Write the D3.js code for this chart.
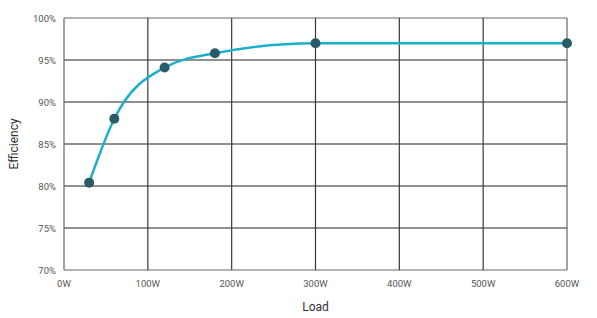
<!DOCTYPE html>
<html>
<head>
<meta charset="utf-8">
<script src="https://cdn.jsdelivr.net/npm/d3@7"></script>
<style>
  body { margin: 0; background: #fff; }
  text { font-family: Roboto, "Noto Sans", sans-serif; }
</style>
</head>
<body>
<div id="chart"></div>
<script>
const loads = [30, 60, 120, 180, 300, 600];
const efficiency = [80.4, 88.0, 94.1, 95.8, 97.0, 97.0];
const xTicks = [0, 100, 200, 300, 400, 500, 600];
const yTicks = [70, 75, 80, 85, 90, 95, 100];

const width = 597, height = 318;
const margin = { top: 18, right: 30, bottom: 48, left: 64 };

const svg = d3.select("#chart").append("svg")
  .attr("width", width)
  .attr("height", height);

const x = d3.scaleLinear().domain([0, 600]).range([margin.left, width - margin.right]);
const y = d3.scaleLinear().domain([70, 100]).range([height - margin.bottom, margin.top]);

// grid
const grid = svg.append("g");
grid.selectAll("line.h").data(yTicks).join("line")
  .attr("x1", x(0)).attr("x2", x(600))
  .attr("y1", d => y(d)).attr("y2", d => y(d))
  .attr("stroke", d => (d === 70 || d === 100) ? "#666" : "#222")
  .attr("stroke-width", 1.2);
grid.selectAll("line.v").data(xTicks).join("line")
  .attr("y1", y(70)).attr("y2", y(100))
  .attr("x1", d => x(d)).attr("x2", d => x(d))
  .attr("stroke", d => (d === 0 || d === 600) ? "#666" : "#3a3a3a")
  .attr("stroke-width", 1.2);

// axis labels
svg.append("g").selectAll("text").data(yTicks).join("text")
  .attr("x", x(0) - 8).attr("y", d => y(d) + 3.5)
  .attr("text-anchor", "end")
  .attr("font-size", 9.5).attr("fill", "#555")
  .text(d => d + "%");

svg.append("g").selectAll("text").data(xTicks).join("text")
  .attr("x", d => x(d)).attr("y", y(70) + 17)
  .attr("text-anchor", "middle")
  .attr("font-size", 9.5).attr("fill", "#555")
  .text(d => d + "W");

svg.append("text")
  .attr("x", (x(0) + x(600)) / 2).attr("y", 311)
  .attr("text-anchor", "middle")
  .attr("font-size", 12).attr("fill", "#333")
  .text("Load");

svg.append("text")
  .attr("transform", `translate(18,${(y(70) + y(100)) / 2}) rotate(-90)`)
  .attr("text-anchor", "middle")
  .attr("font-size", 12).attr("fill", "#333")
  .text("Efficiency");

// line
const data = loads.map((l, i) => ({ load: l, eff: efficiency[i] }));
const line = d3.line()
  .x(d => x(d.load))
  .y(d => y(d.eff))
  .curve(d3.curveMonotoneX);

svg.append("path")
  .datum(data)
  .attr("d", line)
  .attr("fill", "none")
  .attr("stroke", "#1cafcb")
  .attr("stroke-width", 2.5);

svg.append("g").selectAll("circle").data(data).join("circle")
  .attr("cx", d => x(d.load))
  .attr("cy", d => y(d.eff))
  .attr("r", 5)
  .attr("fill", "#2a5b69");
</script>
</body>
</html>
